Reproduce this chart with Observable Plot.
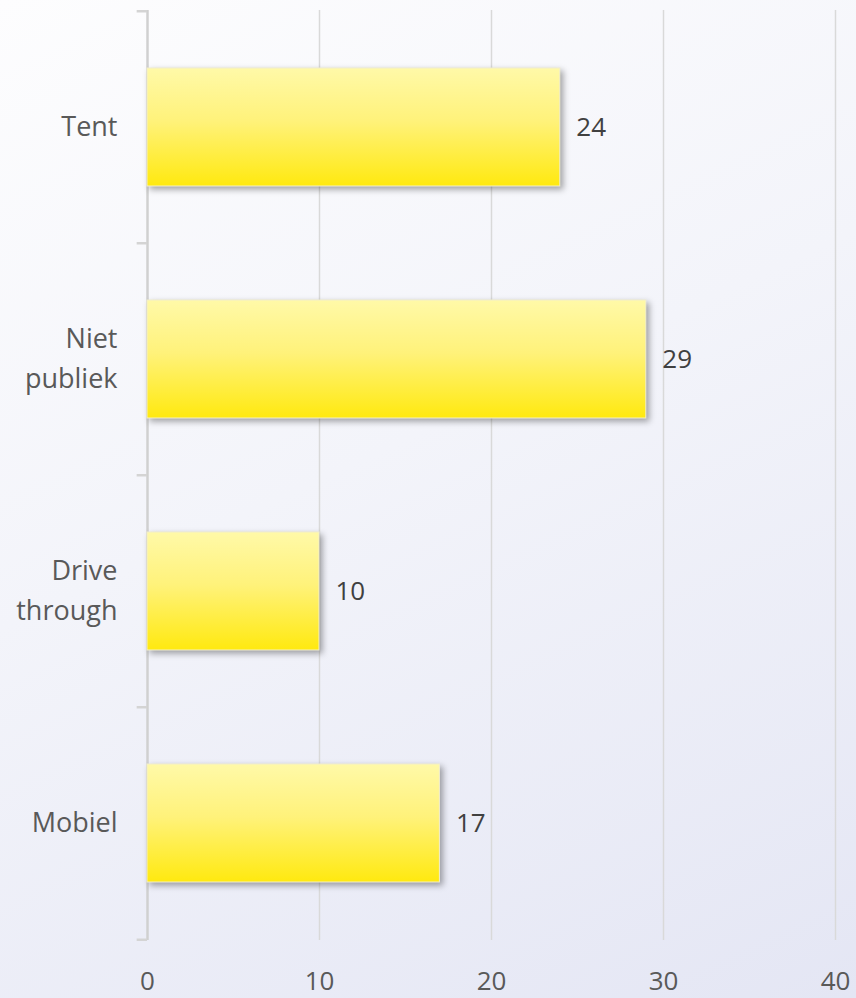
<!DOCTYPE html>
<html>
<head>
<meta charset="utf-8">
<script src="https://cdn.jsdelivr.net/npm/d3@7"></script>
<script src="https://cdn.jsdelivr.net/npm/@observablehq/plot@0.6"></script>
<style>
  html, body { margin: 0; padding: 0; background: #f4f5fa; }
  #chart svg { display: block; }
</style>
</head>
<body>
<div id="chart"></div>
<script>
const categories = ["Tent", "Niet publiek", "Drive through", "Mobiel"];
const categoryLabels = ["Tent", "Niet\npubliek", "Drive\nthrough", "Mobiel"];
const values = [24, 29, 10, 17];
const xTicks = [0, 10, 20, 30, 40];

const data = categories.map((c, i) => ({cat: c, value: values[i], label: categoryLabels[i]}));
const lastCat = [categories[categories.length - 1]];

const chart = Plot.plot({
  width: 856,
  height: 998,
  marginLeft: 147,
  marginRight: 21,
  marginTop: 10,
  marginBottom: 58,
  style: {
    background: "linear-gradient(155deg, #fdfdfe 0%, #f3f4fa 45%, #e4e6f4 100%)",
    fontFamily: "'Open Sans', sans-serif",
    fontSize: "26px",
    color: "#595959"
  },
  x: {domain: [0, 40], ticks: xTicks, tickSize: 0, tickPadding: 31, label: null},
  y: {domain: categories, paddingInner: 0.49, paddingOuter: 0.245, axis: null},
  marks: [
    Plot.ruleX(xTicks.slice(1), {stroke: "#d9d9d9", strokeWidth: 1.5}),
    Plot.ruleX([0], {stroke: "#d0d0d0", strokeWidth: 2.5}),
    Plot.ruleY(categories, {y: d => d, x1: -0.6, x2: 0, dy: -116.25, stroke: "#d4d4d4", strokeWidth: 2.5}),
    Plot.ruleY(lastCat, {y: d => d, x1: -0.6, x2: 0, dy: 116.25, stroke: "#d4d4d4", strokeWidth: 2.5}),
    Plot.barX(data, {x: "value", y: "cat", fill: "url(#barGrad)", stroke: "#f2eecb", strokeWidth: 1}),
    Plot.text(data, {x: "value", y: "cat", text: d => String(d.value), dx: 16, textAnchor: "start", fontSize: 26, fill: "#404040"}),
    Plot.text(data, {x: 0, y: "cat", text: "label", dx: -30, dy: -4, textAnchor: "end", lineHeight: 1.47, fontSize: 27, fill: "#595959"})
  ]
});

const svg = d3.select(chart);
const defs = svg.insert("defs", ":first-child");
const g = defs.append("linearGradient").attr("id", "barGrad").attr("x1", 0).attr("y1", 0).attr("x2", 0).attr("y2", 1);
g.append("stop").attr("offset", "0%").attr("stop-color", "#fff9a8");
g.append("stop").attr("offset", "45%").attr("stop-color", "#fff27a");
g.append("stop").attr("offset", "100%").attr("stop-color", "#ffe90f");
svg.selectAll('g[aria-label="bar"]').style("filter", "drop-shadow(3px 3px 3px rgba(0,0,0,0.35))");
svg.selectAll('g[aria-label="x-axis tick label"] text, g[aria-label="x-axis tick label"]').attr("fill", "#595959");

document.getElementById("chart").appendChild(chart);
</script>
</body>
</html>
